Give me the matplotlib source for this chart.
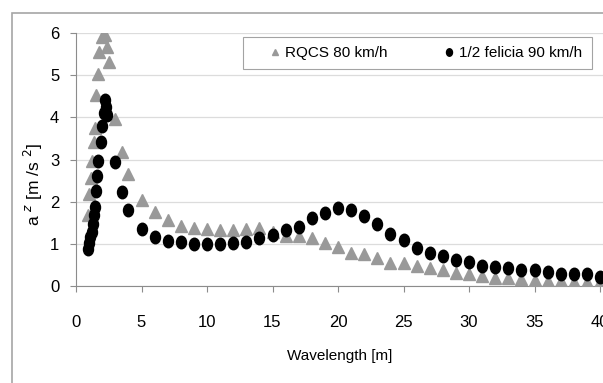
import matplotlib
matplotlib.use('Agg')
import matplotlib.pyplot as plt
from matplotlib.path import Path
from matplotlib.transforms import Affine2D
from matplotlib.patches import Rectangle

plt.rcParams['font.family'] = ['Liberation Sans Narrow', 'Liberation Sans', 'DejaVu Sans']

# RQCS 80 km/h
rqcs_x = [0.9, 1.0, 1.15, 1.25, 1.35, 1.45, 1.55, 1.65, 1.75, 1.95, 2.25, 2.4, 2.5,
          3.0, 3.5, 4.0] + list(range(5, 41))
rqcs_y = [1.68, 2.19, 2.55, 2.97, 3.42, 3.76, 4.53, 5.03, 5.56, 5.92, 5.96, 5.68, 5.32,
          3.96, 3.19, 2.65,
          2.04, 1.76, 1.56, 1.42, 1.38, 1.34, 1.32, 1.32, 1.34, 1.36,
          1.28, 1.18, 1.17, 1.13, 1.01, 0.93, 0.78, 0.75, 0.67, 0.55,
          0.53, 0.47, 0.43, 0.37, 0.31, 0.29, 0.23, 0.19, 0.18, 0.15,
          0.14, 0.11, 0.10, 0.08, 0.08, 0.08]

# 1/2 felicia 90 km/h
fel_x = [0.95, 1.0, 1.1, 1.2, 1.27, 1.37, 1.45, 1.53, 1.63, 1.7, 1.88, 2.0, 2.16,
         2.25, 2.32, 2.39, 3.0, 3.5, 4.0] + list(range(5, 41))
fel_y = [0.87, 1.01, 1.15, 1.28, 1.47, 1.68, 1.88, 2.26, 2.61, 2.97, 3.42, 3.8, 4.1,
         4.41, 4.25, 4.05, 2.93, 2.22, 1.8,
         1.34, 1.15, 1.07, 1.03, 0.99, 0.98, 0.98, 1.02, 1.04, 1.13,
         1.2, 1.32, 1.40, 1.6, 1.74, 1.84, 1.8, 1.66, 1.46, 1.22,
         1.08, 0.89, 0.78, 0.7, 0.61, 0.56, 0.47, 0.45, 0.41, 0.37,
         0.37, 0.32, 0.27, 0.27, 0.27, 0.21]

xticks = [0, 5, 10, 15, 20, 25, 30, 35, 40]
yticks = [0, 1, 2, 3, 4, 5, 6]

# slightly tall ellipse for the dots
dot = Path.unit_circle().transformed(Affine2D().scale(0.8, 1.0))

fig = plt.figure(figsize=(6.03, 3.83), dpi=100)
ax = fig.add_axes([76/603, 1 - 285.7/383, 1 - 76/603, (285.7 - 33.3)/383])

ax.plot(rqcs_x, rqcs_y, ls='none', marker='^', ms=8, color='#999999', mec='#999999',
        label='RQCS 80 km/h', zorder=3)
ax.plot(fel_x, fel_y, ls='none', marker=dot, ms=9, color='black', mec='black',
        label='1/2 felicia 90 km/h', zorder=4)

ax.set_xlim(0, (603 - 76) / 13.1)
ax.set_ylim(0, 6)
ax.set_xticks(xticks)
ax.set_yticks(yticks)
ax.grid(axis='y', color='#dcdcdc', lw=0.9)
ax.set_axisbelow(True)
for s in ['top', 'right']:
    ax.spines[s].set_visible(False)
for s in ['left', 'bottom']:
    ax.spines[s].set_color('#8c8c8c')
ax.tick_params(axis='both', colors='#8c8c8c', labelcolor='black', labelsize=12)
ax.tick_params(axis='x', direction='out', length=4, pad=17)
ax.tick_params(axis='y', direction='out', length=4, pad=8)

ax.set_xlabel('Wavelength [m]', fontsize=11, labelpad=14)
ax.set_ylabel(r'a $^{z}$ [m /s $^{2}$]', fontsize=12.5)
ax.yaxis.set_label_coords(-0.058, 0.40)

leg = ax.legend(loc='upper left', bbox_to_anchor=(243/603, 1 - 37/383), bbox_transform=fig.transFigure,
                ncol=2, frameon=True, fancybox=False, edgecolor='#8c8c8c', fontsize=11,
                markerscale=0.6, handlelength=3.0, handletextpad=-0.85, columnspacing=2.55,
                borderpad=0.6, borderaxespad=0)
leg.get_frame().set_linewidth(0.8)

fig.patches.append(Rectangle((12/603, -0.1), 1.2, 1 - 13/383 + 0.1, transform=fig.transFigure,
                             fill=False, edgecolor='#a6a6a6', lw=1.2))

fig.savefig('out.png', dpi=100)
